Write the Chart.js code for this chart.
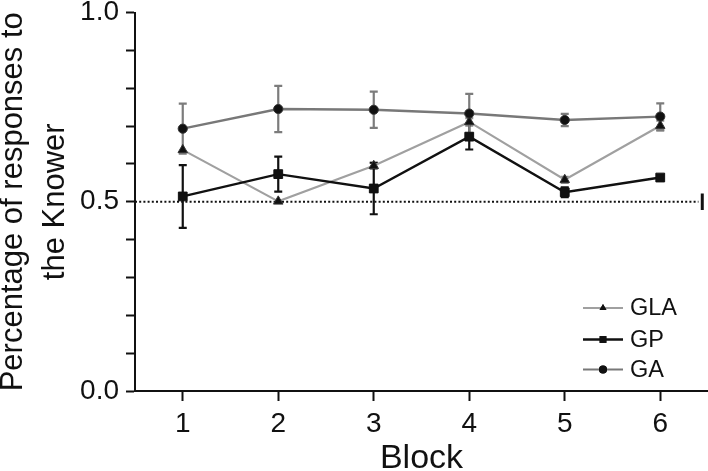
<!DOCTYPE html>
<html>
<head>
<meta charset="utf-8">
<script src="https://cdn.jsdelivr.net/npm/chart.js@4/dist/chart.umd.min.js"></script>
<style>
  html, body { margin: 0; padding: 0; background: #fff; }
  #c { display: block; }
</style>
</head>
<body>
<canvas id="c" width="708" height="471"></canvas>
<script>
// ---- data ----
const blocks = [1, 2, 3, 4, 5, 6];
const seriesNames = ['GLA', 'GP', 'GA'];
const glaValues = [0.637, 0.501, 0.595, 0.711, 0.558, 0.701];
const glaErrors = [0.0, 0.0, 0.008, 0.01, 0.008, 0.013];
const gpValues  = [0.514, 0.573, 0.535, 0.672, 0.525, 0.564];
const gpErrors  = [0.083, 0.046, 0.068, 0.034, 0.013, 0.0];
const gaValues  = [0.693, 0.745, 0.743, 0.733, 0.716, 0.725];
const gaErrors  = [0.066, 0.061, 0.048, 0.052, 0.016, 0.035];
const yTickLabels = ['0.0', '0.5', '1.0'];
const chanceLevel = 0.5;
const chanceLineEnd = 6.4;
const chanceBarX = 6.44;

const FONT = "'Liberation Sans', Arial, Helvetica, sans-serif";

function pts(vals) { return blocks.map((b, i) => ({ x: b, y: vals[i] })); }

const styles = {
  GLA: { line: '#a0a0a0', point: 'triangle', radius: 5.5, width: 2.2, err: '#8c8c8c' },
  GP:  { line: '#111111', point: 'rect', radius: 6.2, width: 2.4, err: '#111111' },
  GA:  { line: '#787878', point: 'circle', radius: 4.6, width: 2.4, err: '#7c7c7c' }
};

const valueMap = { GLA: glaValues, GP: gpValues, GA: gaValues };
const errorMap = { GLA: glaErrors, GP: gpErrors, GA: gaErrors };

const datasets = seriesNames.map(name => ({
  label: name,
  data: pts(valueMap[name]),
  errors: errorMap[name],
  showLine: true,
  borderColor: styles[name].line,
  borderWidth: styles[name].width,
  pointStyle: styles[name].point,
  pointRadius: styles[name].radius,
  pointBackgroundColor: '#111',
  pointBorderColor: name === 'GP' ? '#111' : '#333',
  pointBorderWidth: 1,
  tension: 0,
  order: name === 'GA' ? 1 : (name === 'GP' ? 2 : 3)
}));

// chance line (dotted)
datasets.push({
  label: '_chance',
  data: [{ x: 0.5, y: chanceLevel }, { x: chanceLineEnd, y: chanceLevel }],
  showLine: true,
  borderColor: '#111',
  borderWidth: 2,
  borderDash: [2, 2.2],
  pointRadius: 0,
  order: 10
});
// end bar of chance line
datasets.push({
  label: '_bar',
  data: [{ x: chanceBarX, y: chanceLevel - 0.022 }, { x: chanceBarX, y: chanceLevel + 0.022 }],
  showLine: true,
  borderColor: '#111',
  borderWidth: 3,
  pointRadius: 0,
  order: 10
});

const errorBarPlugin = {
  id: 'errorBars',
  beforeDatasetsDraw(chart) {
    const ctx = chart.ctx;
    const xs = chart.scales.x, ys = chart.scales.y;
    chart.data.datasets.forEach(ds => {
      if (!ds.errors) return;
      const st = styles[ds.label];
      ctx.save();
      ctx.strokeStyle = st.err;
      ctx.lineWidth = 2.2;
      ds.data.forEach((p, i) => {
        const e = ds.errors[i];
        if (!e) return;
        const x = xs.getPixelForValue(p.x);
        const y1 = ys.getPixelForValue(p.y + e);
        const y2 = ys.getPixelForValue(p.y - e);
        ctx.beginPath();
        ctx.moveTo(x, y1); ctx.lineTo(x, y2);
        ctx.moveTo(x - 4, y1); ctx.lineTo(x + 4, y1);
        ctx.moveTo(x - 4, y2); ctx.lineTo(x + 4, y2);
        ctx.stroke();
      });
      ctx.restore();
    });
  }
};

const legendPlugin = {
  id: 'innerLegend',
  afterDraw(chart) {
    const ctx = chart.ctx;
    const ca = chart.chartArea;
    const x0 = ca.right - 125, x1 = ca.right - 85, tx = ca.right - 78;
    const ys = [ca.bottom - 83, ca.bottom - 51.5, ca.bottom - 21.5];
    seriesNames.forEach((name, i) => {
      const st = styles[name];
      const y = ys[i];
      ctx.save();
      ctx.strokeStyle = st.line;
      ctx.lineWidth = name === 'GP' ? 2.4 : 2;
      ctx.beginPath(); ctx.moveTo(x0, y); ctx.lineTo(x1, y); ctx.stroke();
      ctx.fillStyle = '#111';
      ctx.strokeStyle = '#111';
      Chart.helpers.drawPoint(ctx, { pointStyle: st.point, radius: name === 'GP' ? 4.8 : 4, borderWidth: 0, rotation: 0 }, (x0 + x1) / 2, y);
      ctx.fill();
      ctx.fillStyle = '#111';
      ctx.font = '23.5px ' + FONT;
      ctx.textBaseline = 'middle';
      ctx.textAlign = 'left';
      ctx.fillText(name, tx, y + 1);
      ctx.restore();
    });
  }
};

new Chart(document.getElementById('c'), {
  type: 'scatter',
  data: { datasets },
  options: {
    responsive: false,
    devicePixelRatio: 1,
    animation: false,
    layout: { autoPadding: false, padding: { top: 12.5, right: 0, left: 0, bottom: 0 } },
    plugins: { legend: { display: false }, tooltip: { enabled: false } },
    scales: {
      x: {
        type: 'linear',
        min: 0.5,
        max: 6.5,
        afterBuildTicks(scale) { scale.ticks = blocks.map(v => ({ value: v })); },
        afterFit(scale) { scale.height = 80; scale.paddingRight = 0; scale.paddingLeft = 0; },
        border: { display: true, color: '#111', width: 2 },
        grid: { drawOnChartArea: false, drawTicks: true, tickLength: 10, tickWidth: 2, tickColor: '#111' },
        ticks: {
          color: '#111',
          font: { family: FONT, size: 28 },
          padding: 6,
          callback: v => String(v)
        },
        title: {
          display: true,
          text: 'Block',
          color: '#111',
          font: { family: FONT, size: 34, lineHeight: 1 },
          padding: { top: 0, bottom: -5 }
        }
      },
      y: {
        type: 'linear',
        min: 0,
        max: 1,
        afterFit(scale) { scale.width = 135; scale.paddingTop = 0; scale.paddingBottom = 0; },
        border: { display: true, color: '#111', width: 2 },
        grid: { drawOnChartArea: false, drawTicks: true, tickLength: 9, tickWidth: 2, tickColor: '#111' },
        ticks: {
          stepSize: 0.1,
          color: '#111',
          font: { family: FONT, size: 28 },
          padding: 7,
          autoSkip: false,
          callback: v => {
            const idx = Math.round(v * 2);
            if (Math.abs(v * 2 - idx) < 1e-6) return yTickLabels[idx];
            return '';
          }
        },
        title: {
          display: true,
          text: ['Percentage of responses to', 'the Knower'],
          color: '#111',
          font: { family: FONT, size: 31, lineHeight: 1.35 },
          padding: { top: -7, bottom: 0 }
        }
      }
    }
  },
  plugins: [errorBarPlugin, legendPlugin]
});
</script>
</body>
</html>
